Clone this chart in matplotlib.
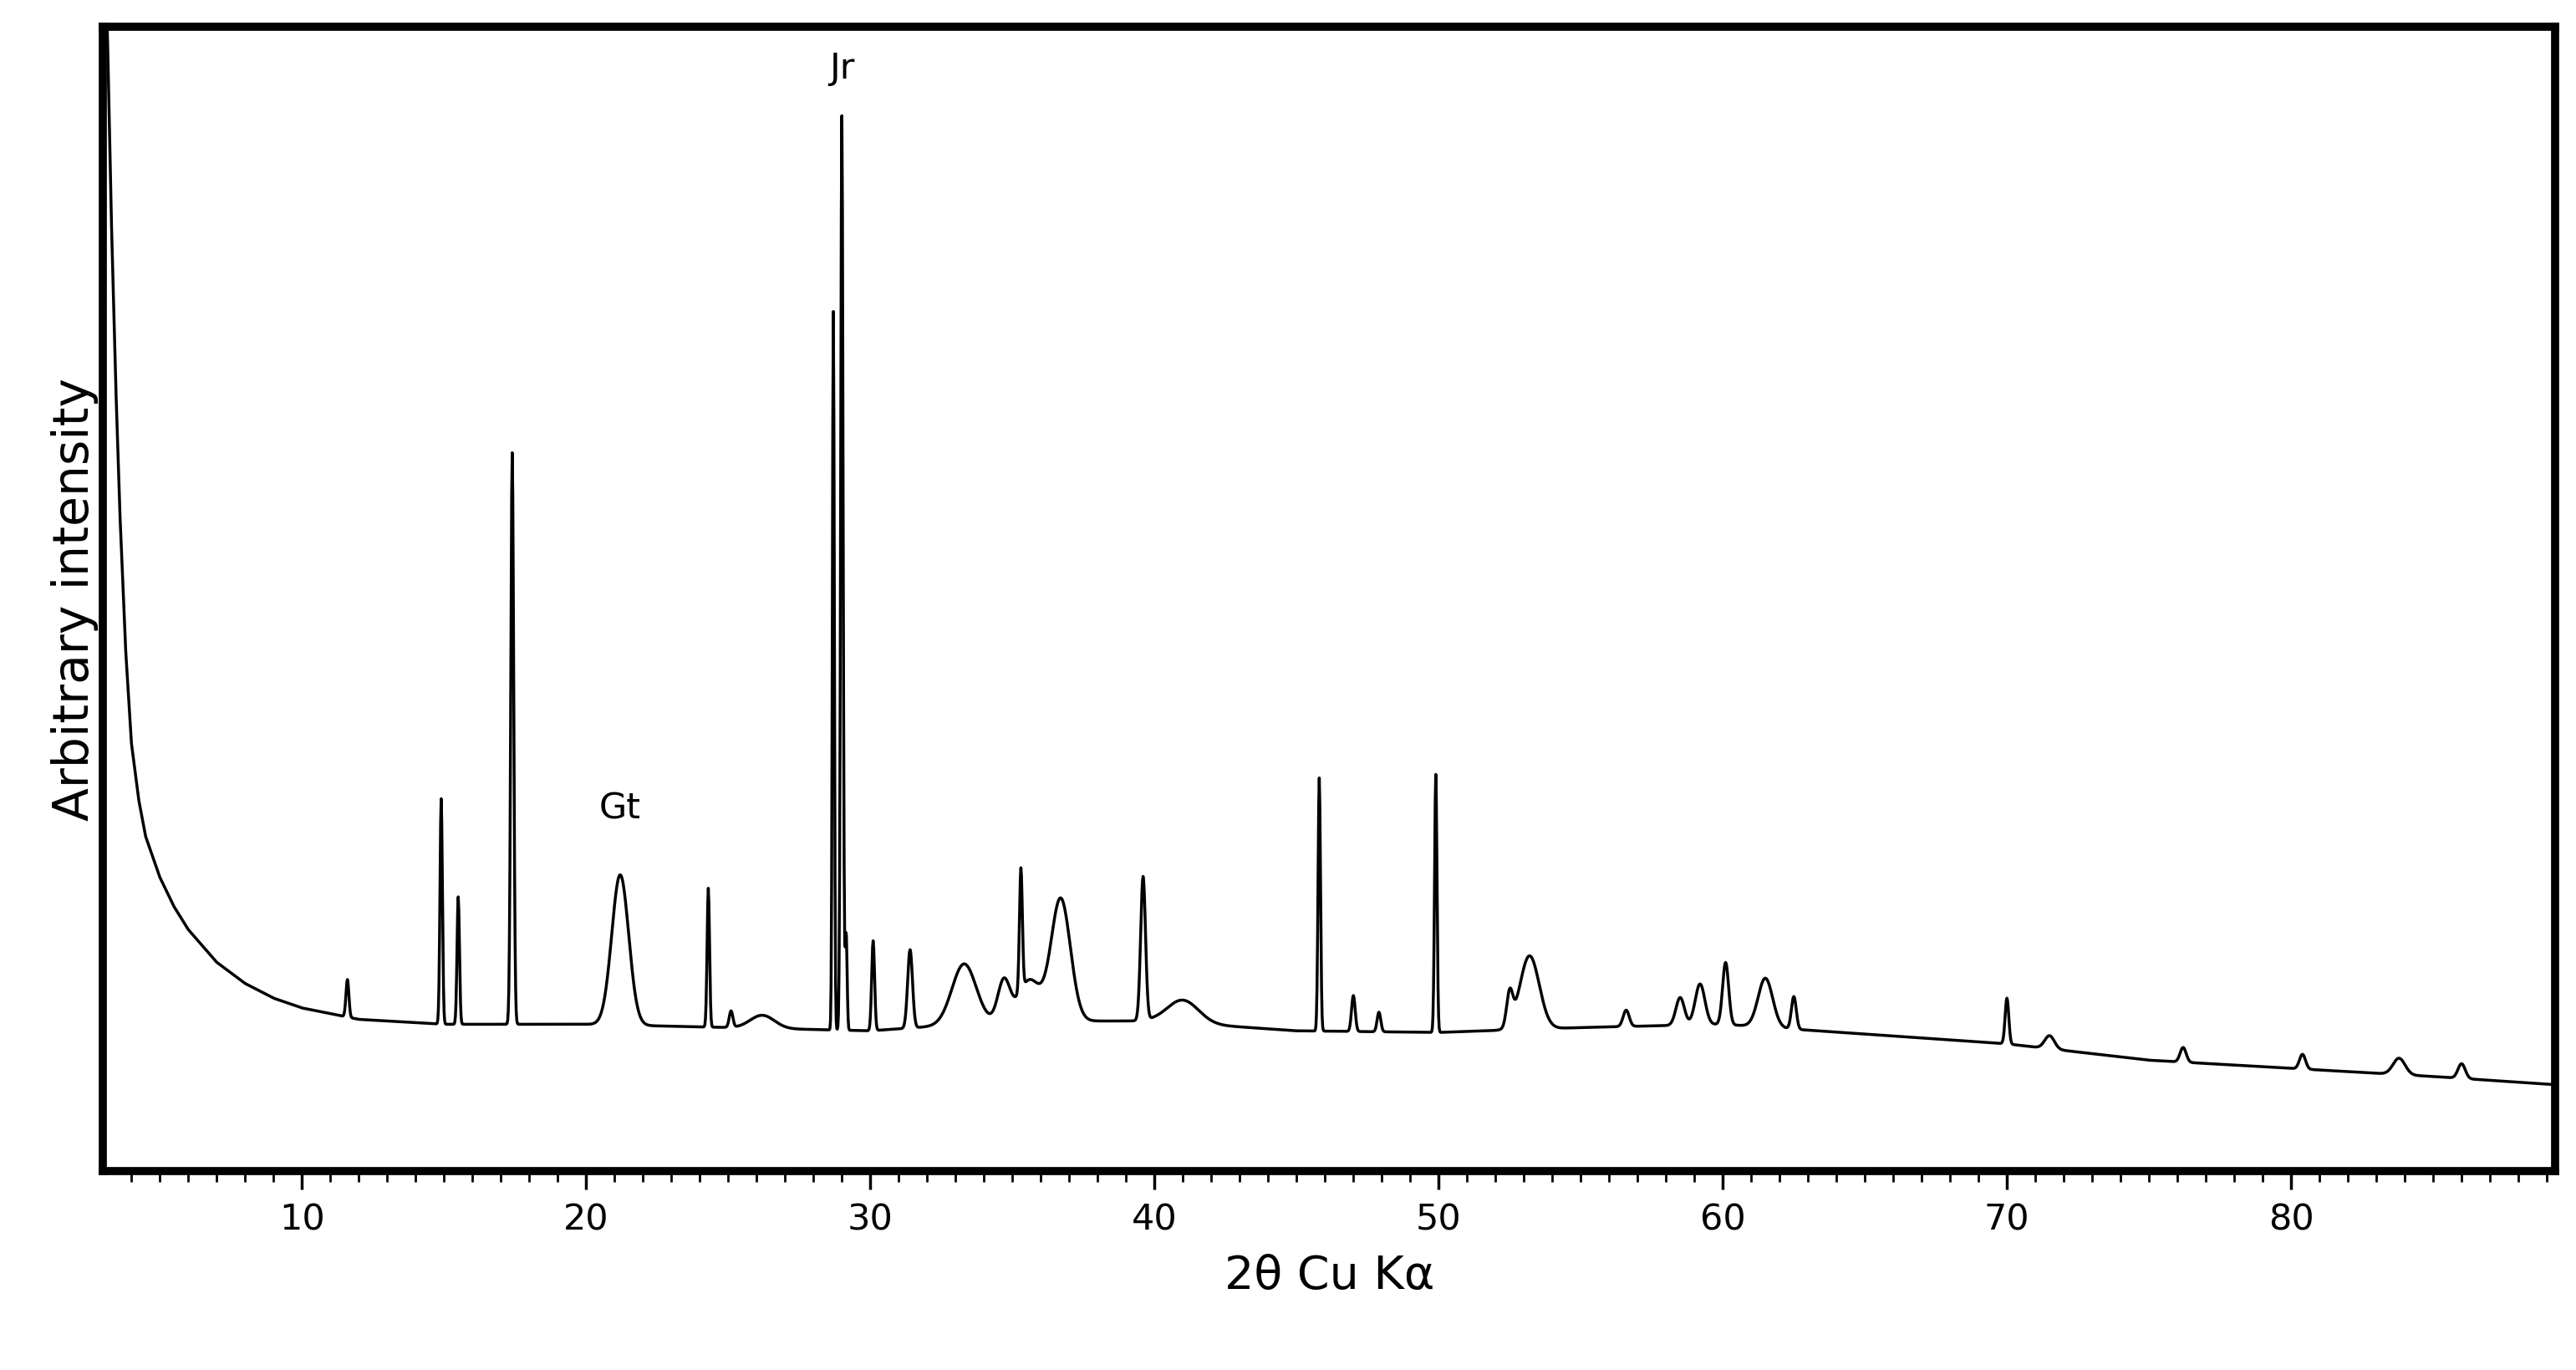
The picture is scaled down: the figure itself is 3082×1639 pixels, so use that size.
import numpy as np
import matplotlib.pyplot as plt

# background knots (2theta, intensity)
bg_x = [3.0, 3.15, 3.3, 3.45, 3.6, 3.8, 4.0, 4.25, 4.5, 5.0, 5.5, 6.0, 7.0, 8.0, 9.0, 10.0,
        12.0, 15.0, 20.0, 25.0, 30.0, 35.0, 40.0, 45.0, 50.0, 55.0, 60.0, 65.0, 70.0, 75.0,
        80.0, 85.0, 89.3]
bg_y = [760, 700, 578, 480, 400, 318, 262, 228, 205, 180, 162, 148, 128, 115, 106, 100,
        93, 90, 90, 88, 86, 92, 92, 86, 85, 88, 90, 84, 78, 68, 63, 58, 53]

# peaks: position, height, width (fwhm)
pk_pos = [11.6, 14.9, 15.5, 17.4, 21.2, 24.3, 25.1, 26.2, 28.7, 29.0, 29.15, 30.1, 31.4,
          33.3, 34.7, 35.3, 35.6, 36.7, 39.6, 41.0, 45.8, 47.0, 47.9, 49.9, 52.5, 53.2,
          56.6, 58.5, 59.2, 60.1, 61.5, 62.5, 70.0, 71.5, 76.2, 80.4, 83.8, 86.0]
pk_h = [23, 138, 78, 350, 92, 85, 10, 8, 440, 560, 60, 55, 48,
        37, 25, 75, 25, 75, 88, 14, 155, 22, 12, 158, 20, 45,
        10, 17, 25, 38, 30, 20, 28, 8, 9, 9, 10, 9]
pk_w = [0.12, 0.1, 0.1, 0.12, 0.7, 0.1, 0.15, 1.0, 0.08, 0.1, 0.08, 0.12, 0.2,
        1.0, 0.5, 0.12, 0.9, 0.8, 0.2, 1.3, 0.1, 0.15, 0.15, 0.1, 0.25, 0.8,
        0.25, 0.35, 0.4, 0.25, 0.6, 0.2, 0.15, 0.4, 0.25, 0.25, 0.5, 0.3]

labels = [("Jr", 29.0, 665), ("Gt", 21.2, 212)]

x = np.arange(3.0, 89.3, 0.02)
y = np.interp(x, bg_x, bg_y)
for p, h, w in zip(pk_pos, pk_h, pk_w):
    y += h * np.exp(-4 * np.log(2) * ((x - p) / w) ** 2)

fig = plt.figure(figsize=(30.82, 16.4), dpi=100)
ax = fig.add_axes([0.040, 0.145, 0.952, 0.835])
ax.plot(x, y, color='black', lw=2.5)
ax.set_xlim(3.0, 89.3)
ax.set_ylim(0, 701)
ax.set_yticks([])
ax.set_xticks(np.arange(10, 90, 10))
ax.set_xticks(np.arange(4, 90, 1), minor=True)
ax.tick_params(axis='x', which='major', length=16, width=2.5, labelsize=31, pad=10)
ax.tick_params(axis='x', which='minor', length=9, width=2)
for s in ax.spines.values():
    s.set_linewidth(7)
for txt, lx, ly in labels:
    ax.text(lx, ly, txt, ha='center', va='bottom', fontsize=31)
ax.set_xlabel('2θ Cu Kα', fontsize=40, labelpad=14)
ax.set_ylabel('Arbitrary intensity', fontsize=42, labelpad=4)
fig.savefig('out.png')
